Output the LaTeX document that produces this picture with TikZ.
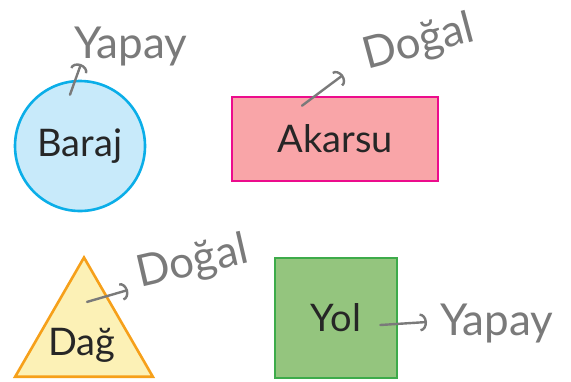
\documentclass[tikz,border=0pt]{standalone}
\usepackage{fontspec}
\setmainfont{Lato}
\usetikzlibrary{arrows.meta,positioning,calc,shapes.geometric}

\definecolor{barajfill}{HTML}{C8EAFA}
\definecolor{barajline}{HTML}{0BAEE8}
\definecolor{akarsufill}{HTML}{F9A5A8}
\definecolor{akarsuline}{HTML}{EC0C8C}
\definecolor{dagfill}{HTML}{FCF1B6}
\definecolor{dagline}{HTML}{F6A01A}
\definecolor{yolfill}{HTML}{94C57E}
\definecolor{yolline}{HTML}{3DAB4A}
\definecolor{pencil}{HTML}{7A7A7A}

\begin{document}
\begin{tikzpicture}[x=0.5pt,y=-0.5pt,
  word/.style={font=\fontsize{19}{21}\selectfont,text=black!85},
  hand/.style={font=\fontsize{22}{24}\selectfont,text=pencil,inner sep=0pt},
  note/.style={pencil,line width=1.2pt,line cap=round,-{Arc Barb[length=3.5pt,width=9pt]}}]
  \useasboundingbox (0,0) rectangle (571,381);
  % shapes
  \node[circle,draw=barajline,fill=barajfill,line width=1.3pt,minimum size=65pt,word] (baraj) at (80,146) {Baraj};
  \node[draw=akarsuline,fill=akarsufill,line width=1.3pt,minimum width=103pt,minimum height=42pt,word] (akarsu) at (335,139) {Akarsu};
  \node[regular polygon,regular polygon sides=3,draw=dagline,fill=dagfill,line width=1.3pt,minimum size=79.5pt,inner sep=0pt] (dag) at (84,337) {};
  \node[word] (dagtext) at (82,345) {Dağ};
  \node[draw=yolline,fill=yolfill,line width=1.3pt,minimum width=61pt,minimum height=60pt,word] (yol) at (336,318) {Yol};
  % handwritten answers
  \node[hand,anchor=base west] (yapay1) at (74,58) {Yapay};
  \node[hand,rotate=15,anchor=base west] (dogal1) at (367,70) {Doğal};
  \node[hand,rotate=13,anchor=base west] (dogal2) at (140,288) {Doğal};
  \node[hand,anchor=base west] (yapay2) at (440,335) {Yapay};
  \draw[note] ($(baraj.north)+(-10,15)$) -- ($(yapay1.base west)+(7,6)$);
  \draw[note] ($(akarsu.north)+(-33,10)$) -- ($(dogal1.base west)+(-24,5)$);
  \draw[note] ($(dag.corner 1)+(3,47)$) -- ($(dogal2.base west)+(-12,2)$);
  \draw[note] ($(yol.east)+(-18,7)$) -- ($(yapay2.base west)+(-13,-13)$);
\end{tikzpicture}
\end{document}
